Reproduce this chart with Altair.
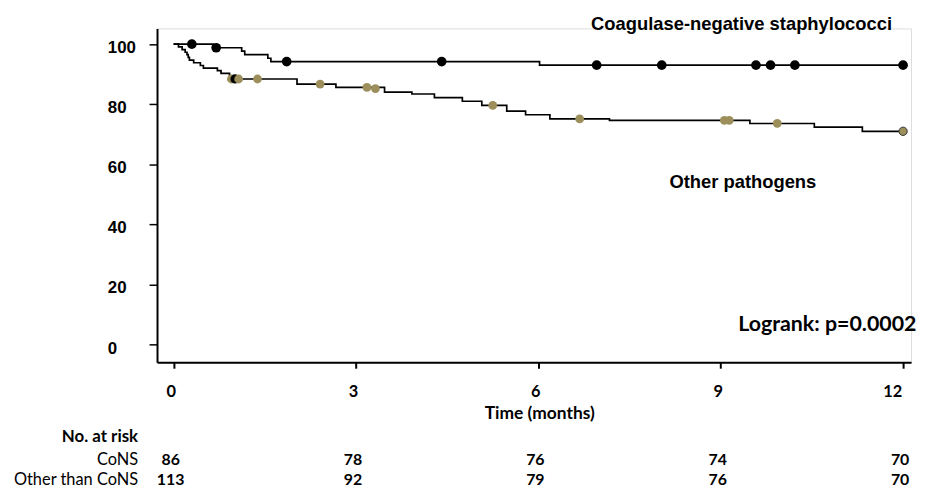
import altair as alt
import pandas as pd

# ---- data ----
# Kaplan-Meier steps (time in months, survival %)
cons_t = [0, 0.65, 1.12, 1.17, 1.55, 1.60, 6.02, 12.0]
cons_s = [100, 98.8, 97.7, 96.5, 95.3, 94.2, 93.0, 93.0]

other_t = [0, 0.08, 0.14, 0.19, 0.22, 0.24, 0.26, 0.33, 0.44, 0.49, 0.72, 0.78, 0.92, 0.95,
           2.03, 2.67, 3.47, 3.92, 4.29, 4.75, 5.07, 5.48, 5.79, 6.19, 7.17, 9.48, 10.54, 11.33, 12.0]
other_s = [100, 99.1, 98.2, 97.3, 96.5, 95.6, 94.7, 93.8, 92.9, 92.0, 91.2, 90.3, 89.4, 88.4,
           86.7, 85.6, 84.0, 83.4, 82.2, 81.0, 79.6, 77.7, 76.5, 75.1, 74.6, 73.6, 72.4, 71.0, 71.0]

# censoring marks
cons_censor_t = [0.30, 0.70, 1.86, 4.41, 6.96, 8.03, 9.58, 9.82, 10.22, 12.0]
cons_censor_s = [100, 98.8, 94.2, 94.2, 93.0, 93.0, 93.0, 93.0, 93.0, 93.0]
other_censor_t = [0.95, 1.01, 1.07, 1.38, 2.41, 3.18, 3.32, 5.25, 6.68, 9.06, 9.14, 9.93, 12.0]
other_censor_s = [88.4, 88.4, 88.4, 88.4, 86.7, 85.6, 85.2, 79.6, 75.1, 74.6, 74.6, 73.6, 71.0]
other_censor_kind = ["Other", "Stray", "Other", "Other", "Other", "Other", "Other", "Other",
                     "Other", "Other", "Other", "Other", "OtherEnd"]

# number at risk table
risk_times = [0, 3, 6, 9, 12]
cons_risk = [86, 78, 76, 74, 70]
other_risk = [113, 92, 79, 76, 70]
row_labels = ["No. at risk", "CoNS", "Other than CoNS"]

x_ticks = [0, 3, 6, 9, 12]
y_ticks = [0, 10, 20, 30, 40, 50, 60, 70, 80, 90, 100]

# ---- tables ----
curves = pd.DataFrame(
    [{"t": t, "s": s, "group": "CoNS"} for t, s in zip(cons_t, cons_s)]
    + [{"t": t, "s": s, "group": "Other"} for t, s in zip(other_t, other_s)]
)
censor = pd.DataFrame(
    [{"t": t, "s": s, "kind": "CoNS"} for t, s in zip(cons_censor_t, cons_censor_s)]
    + [{"t": t, "s": s, "kind": k} for t, s, k in zip(other_censor_t, other_censor_s, other_censor_kind)]
)
risk_cons = pd.DataFrame({"t": risk_times, "n": cons_risk})
risk_other = pd.DataFrame({"t": risk_times, "n": other_risk})

W, H = 759, 336
GOLD = "#9C8F5B"
LATO = "Lato"
ARIAL = "Liberation Sans"

xscale = alt.Scale(domain=[-0.273, 12.131], nice=False, zero=False)
yscale = alt.Scale(domain=[-5.85, 105.22], nice=False, zero=False)

xaxis = alt.Axis(
    values=x_ticks, format="d", title="Time (months)", grid=False,
    domainColor="black", domainWidth=2, tickColor="black", tickWidth=2, tickSize=6,
    labelFont=LATO, labelFontSize=16.5, labelFontWeight="bold", labelColor="black",
    labelBaseline="middle", labelPadding=23, labelFlush=False,
    labelOffset={"condition": {"test": "datum.value == 12", "value": -11}, "value": -3},
    titleFont=LATO, titleFontSize=17.5, titleFontWeight="bold", titleColor="black",
    titleX=384.7, titleY=51.5, titleAlign="center", titleBaseline="middle", titleAnchor="start",
)
yaxis = alt.Axis(
    values=y_ticks, title=None, grid=False,
    domainColor="black", domainWidth=2, tickColor="black", tickWidth=1.5,
    tickSize={"condition": {"test": "datum.value % 20 != 0", "value": 5}, "value": 8},
    labelExpr="datum.value % 20 == 0 ? datum.label : ''",
    labelFont=ARIAL, labelFontSize=17, labelFontWeight="bold", labelColor="black",
    labelAlign="left", labelBaseline="middle", labelPadding=42, labelOffset=3.5, labelFlush=False,
)

lines = alt.Chart(curves).mark_line(interpolate="step-after", color="black", strokeWidth=1.7).encode(
    x=alt.X("t:Q", scale=xscale, axis=xaxis),
    y=alt.Y("s:Q", scale=yscale, axis=yaxis),
    detail="group:N",
)

dots = alt.Chart(censor).mark_point(filled=True, opacity=1).encode(
    x=alt.X("t:Q", scale=xscale),
    y=alt.Y("s:Q", scale=yscale),
    color=alt.Color("kind:N", legend=None,
                    scale=alt.Scale(domain=["CoNS", "Stray", "Other", "OtherEnd"],
                                    range=["black", "black", GOLD, GOLD])),
    size=alt.Size("kind:N", legend=None,
                  scale=alt.Scale(domain=["CoNS", "Stray", "Other", "OtherEnd"],
                                  range=[95, 70, 70, 75])),
    stroke=alt.condition("datum.kind == 'OtherEnd'", alt.value("#333333"), alt.value(None)),
    strokeWidth=alt.condition("datum.kind == 'OtherEnd'", alt.value(1), alt.value(0)),
)

def note(text, x, y, font, size, align="center", weight="bold"):
    return alt.Chart(pd.DataFrame({"label": [text]})).mark_text(
        font=font, fontSize=size, fontWeight=weight, align=align, baseline="middle", color="black"
    ).encode(text="label:N", x=alt.value(x), y=alt.value(y))

ann_cons = note("Coagulase-negative staphylococci", 588.4, -4.6, ARIAL, 18.5)
ann_other = note("Other pathogens", 589.7, 154.4, ARIAL, 18.5)
ann_logrank = note("Logrank: p=0.0002", 764.4, 298.5, LATO, 21.5, align="right")

row_title = note(row_labels[0], -19, 411.5, LATO, 17, align="right")
row_cons = note(row_labels[1], -19, 434.5, LATO, 16.5, align="right", weight="normal")
row_other = note(row_labels[2], -19, 455, LATO, 16.5, align="right", weight="normal")

def risk_row(df, y):
    return alt.Chart(df).mark_text(
        font=LATO, fontSize=16, fontWeight="bold", baseline="middle", align="center", dx=-3, color="black"
    ).encode(x=alt.X("t:Q", scale=xscale), y=alt.value(y), text="n:Q")

chart = alt.layer(
    lines, dots, ann_cons, ann_other, ann_logrank,
    row_title, row_cons, row_other,
    risk_row(risk_cons, 434.5), risk_row(risk_other, 455),
).properties(
    width=W, height=H,
    autosize=alt.AutoSizeParams(type="none"),
    padding={"left": 150, "top": 19, "right": 6, "bottom": 124},
).configure_view(stroke=None).configure(background="white")

chart.save("out.html", embed_options={"renderer": "svg", "actions": False})
